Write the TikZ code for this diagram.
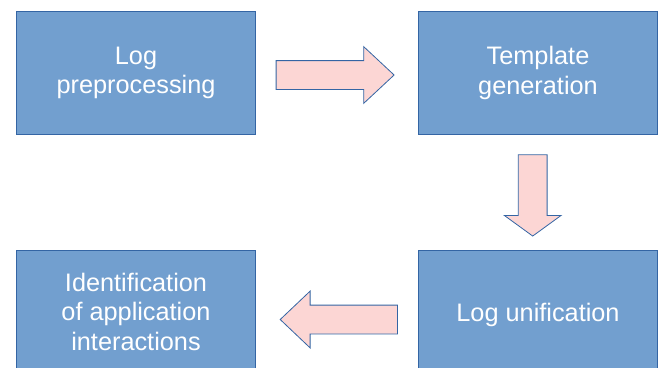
\documentclass[tikz,border=0pt]{standalone}
\usepackage{fontspec}
\setmainfont{Liberation Sans}
\usetikzlibrary{calc,shapes.arrows}

\definecolor{boxblue}{HTML}{729FCF}
\definecolor{lineblue}{HTML}{3465A4}
\definecolor{arrowpink}{RGB}{252,214,212}

\tikzset{
  stagebox/.style={rectangle, draw=lineblue, line width=0.8pt, fill=boxblue,
    minimum width=239.4pt, minimum height=122.3pt, inner sep=0pt,
    text=white, align=center, font=\fontsize{25.3}{29.5}\selectfont,
    execute at begin node={\rule{0pt}{24.5pt}}},
  blockarrow/.style={single arrow, draw=lineblue, line width=0.8pt, fill=arrowpink,
    inner xsep=0pt, inner ysep=14pt, single arrow head extend=14pt, anchor=tail}
}

\begin{document}
\begin{tikzpicture}[x=1pt,y=-1pt]

    \useasboundingbox (0,0) rectangle (663,367);

	% the four stages
	\node[stagebox] (prep) at (136,72.8) {Log\\preprocessing};
	\node[stagebox] (templ) at (538,72.8) {Template\\generation};
	\node[stagebox] (unif) at (538,311.8) {Log unification};
	\node[stagebox] (ident) at (136,311.8) {Identification\\of application\\interactions};
	
	% block arrows between them
	\node[blockarrow, minimum height=118pt, single arrow tip angle=86]
	  (toTempl) at ($(prep.east)+(19.6,2.2)$) {};
	\node[blockarrow, minimum height=81.3pt, single arrow tip angle=108, shape border rotate=270,
	  inner xsep=14pt, inner ysep=0pt]
	  (toUnif) at ($(templ.south)+(-5.3,20)$) {};
	\node[blockarrow, minimum height=117.3pt, single arrow tip angle=87, shape border rotate=180]
	  (toIdent) at ($(unif.west)+(-20,7.7)$) {};

\end{tikzpicture}
\end{document}
